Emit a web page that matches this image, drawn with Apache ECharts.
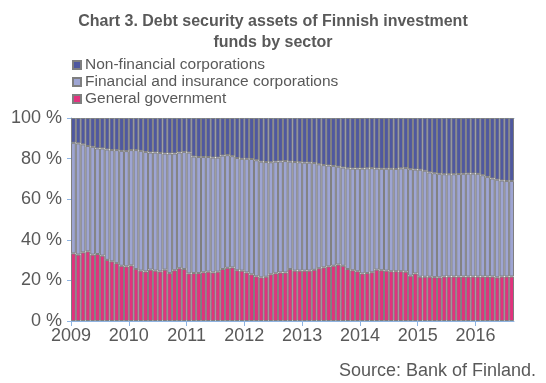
<!DOCTYPE html>
<html><head><meta charset="utf-8">
<script src="https://cdn.jsdelivr.net/npm/echarts@6/dist/echarts.min.js"></script>
<style>html,body{margin:0;padding:0;background:#fff}#c{width:546px;height:383px}</style>
</head><body><div id="c"></div>
<script>
const yearLabels = ['2009','2010','2011','2012','2013','2014','2015','2016'];
const monthLabels = ['01','02','03','04','05','06','07','08','09','10','11','12'];
const categories = [];
yearLabels.forEach(y => monthLabels.forEach(m => { if (categories.length < 92) categories.push(y + '-' + m); }));
const yearTickPositions = yearLabels.map((y, i) => i * 12);

const seriesNames = ['Non-financial corporations','Financial and insurance corporations','General government'];

const generalGovernment = [
  33.3,32.7,33.8,34.3,32.7,33.0,32.2,30.1,29.4,28.5,27.2,26.9,
  27.4,25.6,24.8,24.4,25.3,24.8,24.4,25.3,23.6,25.0,26.0,25.6,
  23.4,23.6,23.6,24.0,24.3,23.9,24.3,25.6,26.2,26.4,25.0,24.8,
  23.9,23.0,22.0,21.5,21.8,23.0,23.5,23.9,23.9,25.6,24.8,24.8,
  24.8,24.8,25.2,26.0,26.4,26.9,27.2,27.8,27.2,25.6,25.0,24.5,
  23.4,23.6,24.0,25.3,25.0,24.8,24.5,24.5,24.5,24.3,22.3,23.4,
  21.8,21.8,21.8,21.6,21.5,21.9,21.9,21.9,21.9,21.9,21.9,21.9,
  21.9,21.9,21.9,21.9,21.5,21.9,21.9,21.9
];
const financialInsurance = [
  54.5,54.8,53.2,51.9,53.1,52.0,52.8,54.4,54.8,55.7,56.6,56.8,
  56.8,58.6,59.0,58.9,57.7,58.2,58.4,57.2,58.9,57.5,57.0,57.7,
  59.6,57.4,57.2,56.8,56.5,56.6,56.2,55.9,55.5,54.8,55.3,55.1,
  56.0,56.8,57.2,57.0,56.5,55.2,55.0,54.7,54.9,52.9,53.5,53.4,
  53.2,53.2,52.6,51.2,50.4,49.7,49.2,48.2,48.4,49.6,50.1,50.6,
  51.7,51.6,51.3,49.8,50.0,50.2,50.5,50.4,50.7,51.1,52.5,51.2,
  52.7,52.2,51.4,51.2,51.0,50.4,50.4,50.4,50.5,50.6,50.7,50.7,
  50.6,49.9,49.1,48.3,48.1,47.3,47.1,47.1
];
const nonFinancial = [
  12.2,12.5,13.0,13.8,14.2,15.0,15.0,15.5,15.8,15.8,16.2,16.3,
  15.8,15.8,16.2,16.7,17.0,17.0,17.2,17.5,17.5,17.5,17.0,16.7,
  17.0,19.0,19.2,19.2,19.2,19.5,19.5,18.5,18.3,18.8,19.7,20.1,
  20.1,20.2,20.8,21.5,21.7,21.8,21.5,21.4,21.2,21.5,21.7,21.8,
  22.0,22.0,22.2,22.8,23.2,23.4,23.6,24.0,24.4,24.8,24.9,24.9,
  24.9,24.8,24.7,24.9,25.0,25.0,25.0,25.1,24.8,24.6,25.2,25.4,
  25.5,26.0,26.8,27.2,27.5,27.7,27.7,27.7,27.6,27.5,27.4,27.4,
  27.5,28.2,29.0,29.8,30.4,30.8,31.0,31.0
];

const FONT = '"Liberation Sans", Arial, sans-serif';
const TXT = '#595959';
const AXIS = '#8EB4E3';

const chart = echarts.init(document.getElementById('c'), null, {renderer: 'canvas'});
chart.setOption({
  animation: false,
  backgroundColor: '#fff',
  textStyle: {fontFamily: FONT},
  title: [
    {text: 'Chart 3. Debt security assets of Finnish investment\nfunds by sector', left: 'center', top: 6,
     textStyle: {fontFamily: FONT, fontSize: 16, fontWeight: 'bold', color: TXT, lineHeight: 21}},
    {text: 'Source: Bank of Finland.', right: 5, top: 357,
     textStyle: {fontFamily: FONT, fontSize: 18, fontWeight: 'normal', color: TXT}}
  ],
  legend: {
    orient: 'vertical', left: 67, top: 52, itemWidth: 8, itemHeight: 8, itemGap: 1,
    icon: 'rect', data: seriesNames,
    textStyle: {fontFamily: FONT, fontSize: 15.5, color: TXT, padding: [0,0,0,-1]}
  },
  grid: {left: 71, right: 32, top: 118, bottom: 62, containLabel: false},
  xAxis: [
    {type: 'category', data: categories, boundaryGap: true,
     axisLine: {show: true, lineStyle: {color: AXIS, width: 1}},
     axisTick: {show: false},
     axisLabel: {show: false}, splitLine: {show: false}},
    {type: 'value', position: 'bottom', min: 0, max: categories.length,
     axisLine: {show: false}, splitLine: {show: false},
     axisTick: {show: true, length: 5, customValues: yearTickPositions, lineStyle: {color: AXIS}},
     axisLabel: {show: true, margin: 6, fontFamily: FONT, fontSize: 18, color: TXT,
       customValues: yearTickPositions,
       formatter: (v) => yearLabels[Math.round(v / 12)]}},
    {type: 'value', position: 'top', min: 0, max: 1,
     axisLine: {show: true, lineStyle: {color: AXIS, width: 1}},
     axisTick: {show: false}, axisLabel: {show: false}, splitLine: {show: false}}
  ],
  yAxis: {type: 'value', min: 0, max: 100, interval: 20,
    axisLine: {show: true, lineStyle: {color: AXIS, width: 1}},
    axisTick: {show: true, length: 4, lineStyle: {color: AXIS}},
    splitLine: {show: false},
    axisLabel: {margin: 9, fontFamily: FONT, fontSize: 18, color: TXT, formatter: '{value} %'}},
  series: [
    {name: seriesNames[2], type: 'bar', stack: 's', data: generalGovernment, barCategoryGap: '0%',
     itemStyle: {color: '#E2327E', borderColor: '#7F7F7F', borderWidth: 1}},
    {name: seriesNames[1], type: 'bar', stack: 's', data: financialInsurance, barCategoryGap: '0%',
     itemStyle: {color: '#9EA5D3', borderColor: '#7F7F7F', borderWidth: 1}},
    {name: seriesNames[0], type: 'bar', stack: 's', data: nonFinancial, barCategoryGap: '0%',
     itemStyle: {color: '#4F58A0', borderColor: '#7F7F7F', borderWidth: 1}}
  ]
});
</script></body></html>
